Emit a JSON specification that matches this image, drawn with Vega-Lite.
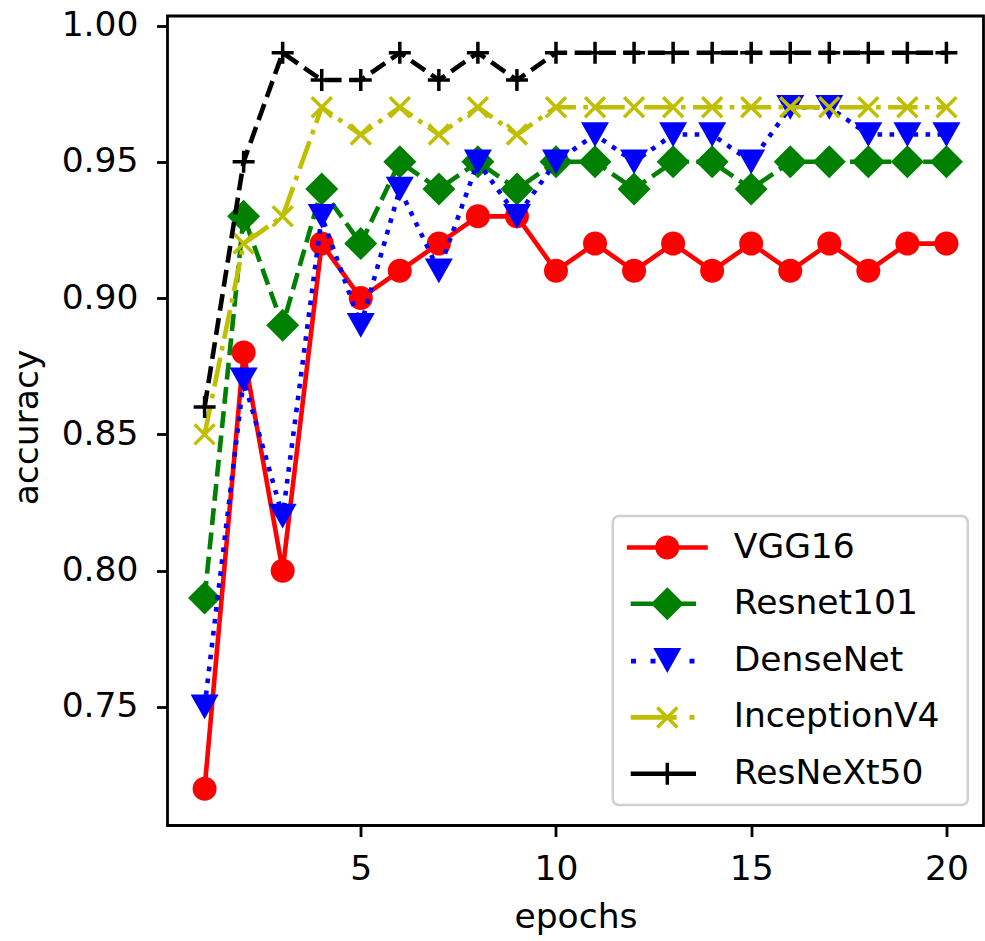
{
  "$schema": "https://vega.github.io/schema/vega-lite/v6.json",
  "width": 816,
  "height": 809.5,
  "autosize": {"type": "none"},
  "padding": {"left": 167.5, "top": 16, "right": 1.5, "bottom": 115.5},
  "background": "white",
  "config": {
    "view": {"stroke": "black", "strokeWidth": 2.8},
    "font": "DejaVu Sans",
    "legend": {"fillColor": "white", "strokeColor": "#d0d0d0", "strokeWidth": 2.5, "cornerRadius": 6},
    "axis": {
      "domain": false,
      "grid": false,
      "tickSize": 11,
      "tickWidth": 2.8,
      "tickColor": "black",
      "labelFont": "DejaVu Sans",
      "labelFontSize": 34.5,
      "labelColor": "black",
      "titleFont": "DejaVu Sans",
      "titleFontSize": 34.5,
      "titleFontWeight": "normal",
      "titleColor": "black"
    }
  },
  "data": {
    "values": [
      {"epoch": 1, "model": "VGG16", "acc": 0.72},
      {"epoch": 2, "model": "VGG16", "acc": 0.88},
      {"epoch": 3, "model": "VGG16", "acc": 0.80},
      {"epoch": 4, "model": "VGG16", "acc": 0.92},
      {"epoch": 5, "model": "VGG16", "acc": 0.90},
      {"epoch": 6, "model": "VGG16", "acc": 0.91},
      {"epoch": 7, "model": "VGG16", "acc": 0.92},
      {"epoch": 8, "model": "VGG16", "acc": 0.93},
      {"epoch": 9, "model": "VGG16", "acc": 0.93},
      {"epoch": 10, "model": "VGG16", "acc": 0.91},
      {"epoch": 11, "model": "VGG16", "acc": 0.92},
      {"epoch": 12, "model": "VGG16", "acc": 0.91},
      {"epoch": 13, "model": "VGG16", "acc": 0.92},
      {"epoch": 14, "model": "VGG16", "acc": 0.91},
      {"epoch": 15, "model": "VGG16", "acc": 0.92},
      {"epoch": 16, "model": "VGG16", "acc": 0.91},
      {"epoch": 17, "model": "VGG16", "acc": 0.92},
      {"epoch": 18, "model": "VGG16", "acc": 0.91},
      {"epoch": 19, "model": "VGG16", "acc": 0.92},
      {"epoch": 20, "model": "VGG16", "acc": 0.92},
      {"epoch": 1, "model": "Resnet101", "acc": 0.79},
      {"epoch": 2, "model": "Resnet101", "acc": 0.93},
      {"epoch": 3, "model": "Resnet101", "acc": 0.89},
      {"epoch": 4, "model": "Resnet101", "acc": 0.94},
      {"epoch": 5, "model": "Resnet101", "acc": 0.92},
      {"epoch": 6, "model": "Resnet101", "acc": 0.95},
      {"epoch": 7, "model": "Resnet101", "acc": 0.94},
      {"epoch": 8, "model": "Resnet101", "acc": 0.95},
      {"epoch": 9, "model": "Resnet101", "acc": 0.94},
      {"epoch": 10, "model": "Resnet101", "acc": 0.95},
      {"epoch": 11, "model": "Resnet101", "acc": 0.95},
      {"epoch": 12, "model": "Resnet101", "acc": 0.94},
      {"epoch": 13, "model": "Resnet101", "acc": 0.95},
      {"epoch": 14, "model": "Resnet101", "acc": 0.95},
      {"epoch": 15, "model": "Resnet101", "acc": 0.94},
      {"epoch": 16, "model": "Resnet101", "acc": 0.95},
      {"epoch": 17, "model": "Resnet101", "acc": 0.95},
      {"epoch": 18, "model": "Resnet101", "acc": 0.95},
      {"epoch": 19, "model": "Resnet101", "acc": 0.95},
      {"epoch": 20, "model": "Resnet101", "acc": 0.95},
      {"epoch": 1, "model": "DenseNet", "acc": 0.75},
      {"epoch": 2, "model": "DenseNet", "acc": 0.87},
      {"epoch": 3, "model": "DenseNet", "acc": 0.82},
      {"epoch": 4, "model": "DenseNet", "acc": 0.93},
      {"epoch": 5, "model": "DenseNet", "acc": 0.89},
      {"epoch": 6, "model": "DenseNet", "acc": 0.94},
      {"epoch": 7, "model": "DenseNet", "acc": 0.91},
      {"epoch": 8, "model": "DenseNet", "acc": 0.95},
      {"epoch": 9, "model": "DenseNet", "acc": 0.93},
      {"epoch": 10, "model": "DenseNet", "acc": 0.95},
      {"epoch": 11, "model": "DenseNet", "acc": 0.96},
      {"epoch": 12, "model": "DenseNet", "acc": 0.95},
      {"epoch": 13, "model": "DenseNet", "acc": 0.96},
      {"epoch": 14, "model": "DenseNet", "acc": 0.96},
      {"epoch": 15, "model": "DenseNet", "acc": 0.95},
      {"epoch": 16, "model": "DenseNet", "acc": 0.97},
      {"epoch": 17, "model": "DenseNet", "acc": 0.97},
      {"epoch": 18, "model": "DenseNet", "acc": 0.96},
      {"epoch": 19, "model": "DenseNet", "acc": 0.96},
      {"epoch": 20, "model": "DenseNet", "acc": 0.96},
      {"epoch": 1, "model": "InceptionV4", "acc": 0.85},
      {"epoch": 2, "model": "InceptionV4", "acc": 0.92},
      {"epoch": 3, "model": "InceptionV4", "acc": 0.93},
      {"epoch": 4, "model": "InceptionV4", "acc": 0.97},
      {"epoch": 5, "model": "InceptionV4", "acc": 0.96},
      {"epoch": 6, "model": "InceptionV4", "acc": 0.97},
      {"epoch": 7, "model": "InceptionV4", "acc": 0.96},
      {"epoch": 8, "model": "InceptionV4", "acc": 0.97},
      {"epoch": 9, "model": "InceptionV4", "acc": 0.96},
      {"epoch": 10, "model": "InceptionV4", "acc": 0.97},
      {"epoch": 11, "model": "InceptionV4", "acc": 0.97},
      {"epoch": 12, "model": "InceptionV4", "acc": 0.97},
      {"epoch": 13, "model": "InceptionV4", "acc": 0.97},
      {"epoch": 14, "model": "InceptionV4", "acc": 0.97},
      {"epoch": 15, "model": "InceptionV4", "acc": 0.97},
      {"epoch": 16, "model": "InceptionV4", "acc": 0.97},
      {"epoch": 17, "model": "InceptionV4", "acc": 0.97},
      {"epoch": 18, "model": "InceptionV4", "acc": 0.97},
      {"epoch": 19, "model": "InceptionV4", "acc": 0.97},
      {"epoch": 20, "model": "InceptionV4", "acc": 0.97},
      {"epoch": 1, "model": "ResNeXt50", "acc": 0.86},
      {"epoch": 2, "model": "ResNeXt50", "acc": 0.95},
      {"epoch": 3, "model": "ResNeXt50", "acc": 0.99},
      {"epoch": 4, "model": "ResNeXt50", "acc": 0.98},
      {"epoch": 5, "model": "ResNeXt50", "acc": 0.98},
      {"epoch": 6, "model": "ResNeXt50", "acc": 0.99},
      {"epoch": 7, "model": "ResNeXt50", "acc": 0.98},
      {"epoch": 8, "model": "ResNeXt50", "acc": 0.99},
      {"epoch": 9, "model": "ResNeXt50", "acc": 0.98},
      {"epoch": 10, "model": "ResNeXt50", "acc": 0.99},
      {"epoch": 11, "model": "ResNeXt50", "acc": 0.99},
      {"epoch": 12, "model": "ResNeXt50", "acc": 0.99},
      {"epoch": 13, "model": "ResNeXt50", "acc": 0.99},
      {"epoch": 14, "model": "ResNeXt50", "acc": 0.99},
      {"epoch": 15, "model": "ResNeXt50", "acc": 0.99},
      {"epoch": 16, "model": "ResNeXt50", "acc": 0.99},
      {"epoch": 17, "model": "ResNeXt50", "acc": 0.99},
      {"epoch": 18, "model": "ResNeXt50", "acc": 0.99},
      {"epoch": 19, "model": "ResNeXt50", "acc": 0.99},
      {"epoch": 20, "model": "ResNeXt50", "acc": 0.99}
    ]
  },
  "encoding": {
    "x": {
      "field": "epoch", "type": "quantitative",
      "scale": {"domain": [0.05, 20.95], "nice": false, "zero": false},
      "axis": {"values": [5, 10, 15, 20], "labelPadding": 16, "title": "epochs", "titlePadding": 14, "labelFlush": false}
    },
    "y": {
      "field": "acc", "type": "quantitative",
      "scale": {"domain": [0.7065, 1.0035], "nice": false, "zero": false},
      "axis": {"values": [0.75, 0.8, 0.85, 0.9, 0.95, 1.0], "format": ".2f", "labelPadding": 18.5, "title": "accuracy", "titlePadding": 17, "titleY": 411, "labelFlush": false}
    }
  },
  "layer": [
    {
      "transform": [{"filter": {"field": "model", "equal": "VGG16"}}],
      "mark": {"type": "line", "color": "#ff0000", "strokeWidth": 4.6, "strokeCap": "square", "strokeJoin": "round"}
    },
    {
      "transform": [{"filter": {"field": "model", "equal": "VGG16"}}],
      "mark": {"type": "point", "filled": true, "color": "#ff0000", "opacity": 1, "strokeWidth": 0, "size": 1600,
        "shape": "M0.6,0A0.6,0.6,0,1,1,-0.6,0A0.6,0.6,0,1,1,0.6,0Z"}
    },
    {
      "transform": [{"filter": {"field": "model", "equal": "Resnet101"}}],
      "mark": {"type": "line", "color": "#008000", "strokeWidth": 4.6, "strokeCap": "butt", "strokeJoin": "round", "strokeDash": [16.9, 7.5]}
    },
    {
      "transform": [{"filter": {"field": "model", "equal": "Resnet101"}}],
      "mark": {"type": "point", "filled": true, "color": "#008000", "opacity": 1, "strokeWidth": 0, "size": 1600,
        "shape": "M0,-0.825L0.825,0L0,0.825L-0.825,0Z"}
    },
    {
      "transform": [{"filter": {"field": "model", "equal": "DenseNet"}}],
      "mark": {"type": "line", "color": "#0000ff", "strokeWidth": 4.6, "strokeCap": "butt", "strokeJoin": "round", "strokeDash": [4.6, 7.4]}
    },
    {
      "transform": [{"filter": {"field": "model", "equal": "DenseNet"}}],
      "mark": {"type": "point", "filled": true, "color": "#0000ff", "opacity": 1, "strokeWidth": 0, "size": 1600,
        "shape": "M-0.7,-0.62L0.7,-0.62L0,0.62Z"}
    },
    {
      "transform": [{"filter": {"field": "model", "equal": "InceptionV4"}}],
      "mark": {"type": "line", "color": "#bfbf00", "strokeWidth": 4.6, "strokeCap": "butt", "strokeJoin": "round", "strokeDash": [29.4, 7.4, 4.6, 7.4]}
    },
    {
      "transform": [{"filter": {"field": "model", "equal": "InceptionV4"}}],
      "mark": {"type": "point", "filled": true, "color": "#bfbf00", "opacity": 1, "strokeWidth": 0, "size": 1600,
        "shape": "M-0.438,-0.562L0.562,0.438L0.438,0.562L-0.562,-0.438Z M-0.562,0.438L0.438,-0.562L0.562,-0.438L-0.438,0.562Z"}
    },
    {
      "transform": [{"filter": {"field": "model", "equal": "ResNeXt50"}}],
      "mark": {"type": "line", "color": "#000000", "strokeWidth": 4.6, "strokeCap": "butt", "strokeJoin": "round", "strokeDash": [16.9, 7.5]}
    },
    {
      "transform": [{"filter": {"field": "model", "equal": "ResNeXt50"}}],
      "mark": {"type": "point", "filled": true, "color": "#000000", "opacity": 1, "strokeWidth": 0, "size": 1600,
        "shape": "M-0.55,-0.0875H0.55V0.0875H-0.55Z M-0.0875,-0.55H0.0875V0.55H-0.0875Z"}
    },
    {
      "transform": [{"filter": "datum.acc > 5"}],
      "mark": {"type": "point", "filled": true, "opacity": 1, "strokeWidth": 0, "size": 1225},
      "encoding": {
        "fill": {
          "field": "model", "type": "nominal",
          "scale": {"domain": ["VGG16", "Resnet101", "DenseNet", "InceptionV4", "ResNeXt50"],
                    "range": ["#ff0000", "#008000", "#0000ff", "#bfbf00", "#000000"]},
          "legend": {
            "title": "\u00a0", "titleOrient": "right", "titlePadding": 14, "titleFontSize": 34.5, "titleFont": "DejaVu Sans",
            "orient": "none", "legendX": 445.3, "legendY": 500,
            "padding": 14, "rowPadding": 21.3, "labelOffset": 49, "symbolOffset": 23, "symbolSize": 1225, "symbolStrokeWidth": 0, "symbolOpacity": 1,
            "labelFont": "DejaVu Sans", "labelFontSize": 34.5, "labelColor": "black", "labelLimit": 400
          }
        },
        "shape": {
          "field": "model", "type": "nominal",
          "scale": {"domain": ["VGG16", "Resnet101", "DenseNet", "InceptionV4", "ResNeXt50"],
                    "range": [
                      "M-2.314,-0.131H2.314V0.131H-2.314Z M0.686,0A0.686,0.686,0,1,1,-0.686,0A0.686,0.686,0,1,1,0.686,0Z",
                      "M-2.091,-0.131H1.64V0.131H-2.091Z M0,-0.943L0.943,0L0,0.943L-0.943,0Z",
                      "M-2.074,-0.131H-1.789V0.131H-2.074Z M-0.96,-0.131H-0.674V0.131H-0.96Z M1.269,-0.131H1.554V0.131H1.269Z M-0.8,-0.743L0.8,-0.743L0,0.686Z",
                      "M-2.091,-0.131H0.537V0.131H-2.091Z M1.269,-0.131H1.554V0.131H1.269Z M-0.5,-0.642L0.642,0.5L0.5,0.642L-0.642,-0.5Z M-0.642,0.5L0.5,-0.642L0.642,-0.5L-0.5,0.642Z",
                      "M-2.091,-0.131H1.64V0.131H-2.091Z M-0.1,-0.629H0.1V0.629H-0.1Z"
                    ]},
          "legend": {
            "title": "\u00a0", "titleOrient": "right", "titlePadding": 14, "titleFontSize": 34.5, "titleFont": "DejaVu Sans",
            "orient": "none", "legendX": 445.3, "legendY": 500,
            "padding": 14, "rowPadding": 21.3, "labelOffset": 49, "symbolOffset": 23, "symbolSize": 1225, "symbolStrokeWidth": 0, "symbolOpacity": 1,
            "labelFont": "DejaVu Sans", "labelFontSize": 34.5, "labelColor": "black", "labelLimit": 400
          }
        }
      }
    }
  ]
}
